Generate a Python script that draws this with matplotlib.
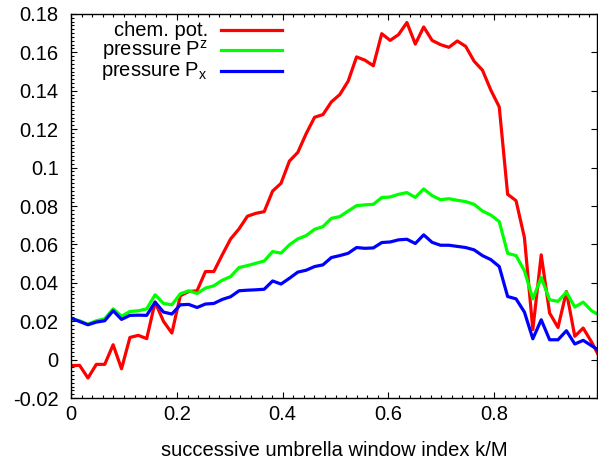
import numpy as np
import matplotlib
matplotlib.use("Agg")
import matplotlib.pyplot as plt
from matplotlib.lines import Line2D
from matplotlib.ticker import MultipleLocator

plt.rcParams['font.family'] = ['Liberation Sans', 'DejaVu Sans']
plt.rcParams['mathtext.default'] = 'regular'

# window index k = 0..63, x = k/63
k = np.arange(64)
x = k / 63.0

chem_pot = [-0.0031, -0.0029, -0.0095, -0.0024, -0.0024, 0.0078, -0.0047, 0.0116,
            0.0127, 0.0110, 0.0300, 0.0200, 0.0139, 0.0333, 0.0355, 0.0359,
            0.0459, 0.0459, 0.0546, 0.0629, 0.0681, 0.0747, 0.0762, 0.0771,
            0.0878, 0.0918, 0.1034, 0.1079, 0.1177, 0.1262, 0.1276, 0.1342,
            0.1380, 0.1450, 0.1576, 0.1559, 0.1530, 0.1697, 0.1662, 0.1692,
            0.1755, 0.1643, 0.1732, 0.1662, 0.1640, 0.1626, 0.1659, 0.1631,
            0.1554, 0.1507, 0.1403, 0.1316, 0.0861, 0.0828, 0.0636, 0.0157,
            0.0546, 0.0243, 0.0168, 0.0355, 0.0122, 0.0165, 0.0092, 0.0010]

pressure_z = [0.0213, 0.0203, 0.0185, 0.0203, 0.0213, 0.0265, 0.0227, 0.0251,
              0.0255, 0.0265, 0.0338, 0.0293, 0.0286, 0.0343, 0.0359, 0.0345,
              0.0373, 0.0385, 0.0414, 0.0433, 0.0480, 0.0490, 0.0502, 0.0514,
              0.0563, 0.0555, 0.0598, 0.0629, 0.0646, 0.0679, 0.0693, 0.0736,
              0.0745, 0.0774, 0.0802, 0.0806, 0.0809, 0.0844, 0.0847, 0.0861,
              0.0870, 0.0845, 0.0889, 0.0854, 0.0833, 0.0838, 0.0830, 0.0823,
              0.0809, 0.0774, 0.0753, 0.0719, 0.0554, 0.0542, 0.0463, 0.0317,
              0.0428, 0.0312, 0.0304, 0.0352, 0.0274, 0.0300, 0.0255, 0.0230]

pressure_x = [0.0217, 0.0199, 0.0182, 0.0196, 0.0203, 0.0255, 0.0210, 0.0231,
              0.0232, 0.0231, 0.0300, 0.0248, 0.0238, 0.0286, 0.0288, 0.0272,
              0.0290, 0.0293, 0.0314, 0.0328, 0.0359, 0.0362, 0.0364, 0.0367,
              0.0410, 0.0394, 0.0424, 0.0456, 0.0466, 0.0485, 0.0494, 0.0532,
              0.0542, 0.0554, 0.0584, 0.0580, 0.0582, 0.0610, 0.0613, 0.0624,
              0.0627, 0.0605, 0.0650, 0.0611, 0.0596, 0.0596, 0.0590, 0.0584,
              0.0572, 0.0542, 0.0521, 0.0485, 0.0329, 0.0317, 0.0248, 0.0109,
              0.0208, 0.0104, 0.0104, 0.0151, 0.0082, 0.0101, 0.0073, 0.0045]

labels = ['chem. pot.', r'pressure P$^{z}$', r'pressure P$_{x}$']
colors = ['#ff0000', '#00ff00', '#0000ff']

fig = plt.figure(figsize=(5.98, 4.63), dpi=100)
ax = fig.add_axes([0.119, 0.140, 0.879, 0.830])

for y, c in zip([chem_pot, pressure_z, pressure_x], colors):
    ax.plot(x, y, color=c, lw=2.3)

ax.set_xlim(0, 0.994)
ax.set_ylim(-0.02, 0.18)
ax.xaxis.set_minor_locator(MultipleLocator(0.02))
ax.yaxis.set_minor_locator(MultipleLocator(0.002))
ax.set_xticks([0, 0.2, 0.4, 0.6, 0.8])
ax.set_xticklabels(['0', '0.2', '0.4', '0.6', '0.8'])
yt = np.round(np.arange(-0.02, 0.181, 0.02), 2)
ax.set_yticks(yt)
ax.set_yticklabels(['0' if v == 0 else ('%g' % v) for v in yt])

ax.tick_params(which='both', direction='in', top=True, right=True,
               labelsize=14.5, width=0.8, colors='black')
ax.tick_params(which='major', length=4.5)
ax.tick_params(axis='y', which='major', pad=9)
ax.tick_params(axis='x', which='major', pad=5)
ax.tick_params(which='minor', length=2, right=False)
for s in ax.spines.values():
    s.set_linewidth(1.0)

ax.set_xlabel('successive umbrella window index k/M', fontsize=14.5, labelpad=12)

# key, gnuplot style: text right-aligned, sample line to the right
rows = [0.958, 0.906, 0.852]
for lab, c, yy in zip(labels, colors, rows):
    ax.text(0.260, yy, lab, transform=ax.transAxes, ha='right', va='center',
            fontsize=14.5)
    ax.add_line(Line2D([0.285, 0.401], [yy, yy], transform=ax.transAxes,
                       color=c, lw=2.3))

fig.savefig('out.png', dpi=100)
